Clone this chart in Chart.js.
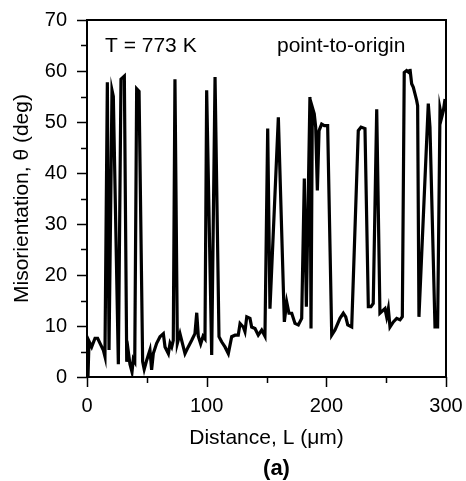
<!DOCTYPE html>
<html>
<head>
<meta charset="utf-8">
<script src="https://cdn.jsdelivr.net/npm/chart.js@4/dist/chart.umd.min.js"></script>
<style>
html,body{margin:0;padding:0;background:#fff;}
#wrap{width:466px;height:481px;position:relative;}
</style>
</head>
<body>
<div id="wrap"><canvas id="c" width="466" height="481"></canvas></div>
<script>
// Data
const distance = [0, 0.8, 1.7, 3.9, 6.7, 8.9, 10.9, 13.6, 15.0, 17.0, 18.4, 20.9, 22.0, 26.2, 28.4, 31.2, 33.2, 34.5, 35.9, 37.6, 38.7, 39.9, 41.5, 43.5, 46.5, 47.8, 49.9, 52.6, 54.0, 55.4, 58.2, 61.0, 63.8, 65.2, 68.0, 69.4, 70.8, 72.1, 73.5, 75.5, 77.7, 79.1, 81.9, 84.6, 87.5, 90.2, 91.7, 93.0, 95.0, 97.0, 98.6, 100.0, 104.2, 107.0, 110.3, 112.5, 115.3, 118.1, 120.9, 123.7, 126.4, 127.9, 130.6, 132.0, 133.5, 136.2, 137.6, 140.4, 143.1, 146.0, 148.7, 151.0, 152.9, 159.9, 164.9, 166.9, 168.8, 171.1, 173.8, 176.6, 179.4, 181.6, 183.3, 186.3, 187.2, 188.3, 189.9, 191.1, 192.5, 193.9, 196.1, 198.3, 201.1, 204.5, 207.2, 211.4, 214.2, 216.2, 217.9, 221.2, 226.7, 229.0, 232.3, 235.1, 237.3, 239.2, 242.1, 244.8, 249.0, 250.4, 251.8, 253.2, 256.0, 258.8, 261.6, 263.5, 265.1, 267.1, 269.1, 269.9, 271.3, 272.7, 274.1, 275.5, 276.3, 277.4, 285.2, 286.6, 290.8, 293.0, 295.0, 296.4, 297.8, 299.2];
const misorientation = [6.5, 0, 7.0, 5.9, 7.6, 7.6, 6.6, 5.3, 4.0, 57.8, 5.3, 56.2, 55.0, 2.5, 58.4, 59.0, 3.0, 5.0, 2.5, 1.0, 3.5, 3.0, 56.5, 56.0, 3.0, 1.5, 3.3, 5.3, 1.4, 4.6, 6.6, 7.9, 8.5, 5.9, 4.6, 6.6, 5.9, 7.2, 58.4, 6.6, 8.5, 7.2, 4.6, 5.9, 7.2, 8.5, 12.6, 8.0, 6.5, 8.0, 7.5, 56.2, 4.3, 58.8, 7.9, 6.9, 5.9, 4.6, 7.9, 8.2, 8.2, 10.5, 9.8, 8.9, 11.8, 11.5, 9.8, 9.5, 8.2, 9.2, 8.0, 48.7, 13.4, 50.9, 10.8, 14.7, 12.5, 12.5, 10.5, 10.2, 11.5, 38.9, 13.8, 54.9, 9.5, 52.9, 51.6, 49.0, 36.6, 48.3, 49.6, 49.3, 49.3, 8.2, 9.2, 11.5, 12.5, 11.8, 10.2, 9.8, 48.3, 49.0, 48.7, 13.8, 13.8, 14.4, 52.5, 12.5, 13.4, 11.8, 13.4, 9.8, 10.8, 11.5, 11.2, 11.8, 59.7, 60.1, 59.7, 60.4, 57.5, 56.8, 55.5, 54.2, 53.2, 11.8, 53.6, 49.0, 9.8, 9.8, 52.6, 50.9, 52.2, 54.5];

const xMajorTicks = [0, 100, 200, 300];
const xMinorTicks = [50, 150, 250];
const yMajorTicks = [0, 10, 20, 30, 40, 50, 60, 70];
const yMinorTicks = [5, 15, 25, 35, 45, 55, 65];

const xTitle = 'Distance, L (\u03bcm)';
const yTitle = 'Misorientation, \u03b8 (deg)';
const annotTemp = 'T = 773 K';
const annotMethod = 'point-to-origin';
const panelLabel = '(a)';

const FONT = '"Liberation Sans", Arial, Helvetica, sans-serif';

const points = distance.map((d, i) => ({x: d, y: misorientation[i]}));

const framePlugin = {
  id: 'frameTicks',
  afterDraw(chart) {
    const {ctx, chartArea: a, scales: {x, y}} = chart;
    ctx.save();
    ctx.strokeStyle = '#000';
    ctx.lineWidth = 2;
    ctx.strokeRect(a.left, a.top, a.right - a.left, a.bottom - a.top);
    ctx.lineWidth = 1.5;
    ctx.beginPath();
    yMajorTicks.forEach(v => { const p = Math.round(y.getPixelForValue(v)) + 0.5; ctx.moveTo(a.left - 10, p); ctx.lineTo(a.left, p); });
    yMinorTicks.forEach(v => { const p = Math.round(y.getPixelForValue(v)) + 0.5; ctx.moveTo(a.left - 6, p); ctx.lineTo(a.left, p); });
    xMajorTicks.forEach(v => { const p = Math.round(x.getPixelForValue(v)) + 0.5; ctx.moveTo(p, a.bottom); ctx.lineTo(p, a.bottom + 10); });
    xMinorTicks.forEach(v => { const p = Math.round(x.getPixelForValue(v)) + 0.5; ctx.moveTo(p, a.bottom); ctx.lineTo(p, a.bottom + 6); });
    ctx.stroke();

    ctx.fillStyle = '#000';
    ctx.textBaseline = 'alphabetic';
    ctx.textAlign = 'left';
    ctx.font = '21px ' + FONT;
    ctx.fillText(annotTemp, a.left + 18, a.top + 32);
    ctx.fillText(annotMethod, a.left + 190, a.top + 32);
    ctx.textAlign = 'center';
    ctx.font = 'bold 22px ' + FONT;
    ctx.fillText(panelLabel, (a.left + a.right) / 2 + 10, 475);
    ctx.restore();
  }
};

new Chart(document.getElementById('c'), {
  type: 'line',
  data: {
    datasets: [{
      data: points,
      borderColor: '#000',
      borderWidth: 3.2,
      pointRadius: 0,
      tension: 0,
      fill: false
    }]
  },
  options: {
    responsive: false,
    animation: false,
    devicePixelRatio: 1,
    layout: {padding: {top: 20, right: 20, left: 0, bottom: 30}},
    plugins: {legend: {display: false}, tooltip: {enabled: false}, title: {display: false}},
    scales: {
      x: {
        type: 'linear', min: 0, max: 300,
        afterBuildTicks: s => { s.ticks = xMajorTicks.map(v => ({value: v})); },
        afterFit: s => { s.height = 74; s.paddingLeft = 0; s.paddingRight = 0; },
        grid: {display: false, drawTicks: false},
        border: {display: false},
        ticks: {color: '#000', padding: 17, font: {family: FONT, size: 20}, maxRotation: 0},
        title: {display: true, text: xTitle, color: '#000', font: {family: FONT, size: 21}, padding: {top: 0, bottom: 0}}
      },
      y: {
        type: 'linear', min: 0, max: 70,
        afterBuildTicks: s => { s.ticks = yMajorTicks.map(v => ({value: v})); },
        afterFit: s => { s.width = 87; s.paddingTop = 0; s.paddingBottom = 0; },
        grid: {display: false, drawTicks: false},
        border: {display: false},
        ticks: {color: '#000', padding: 20, font: {family: FONT, size: 20}},
        title: {display: true, text: yTitle, color: '#000', font: {family: FONT, size: 21}, padding: {top: 10, bottom: 0}}
      }
    }
  },
  plugins: [framePlugin]
});
</script>
</body>
</html>
